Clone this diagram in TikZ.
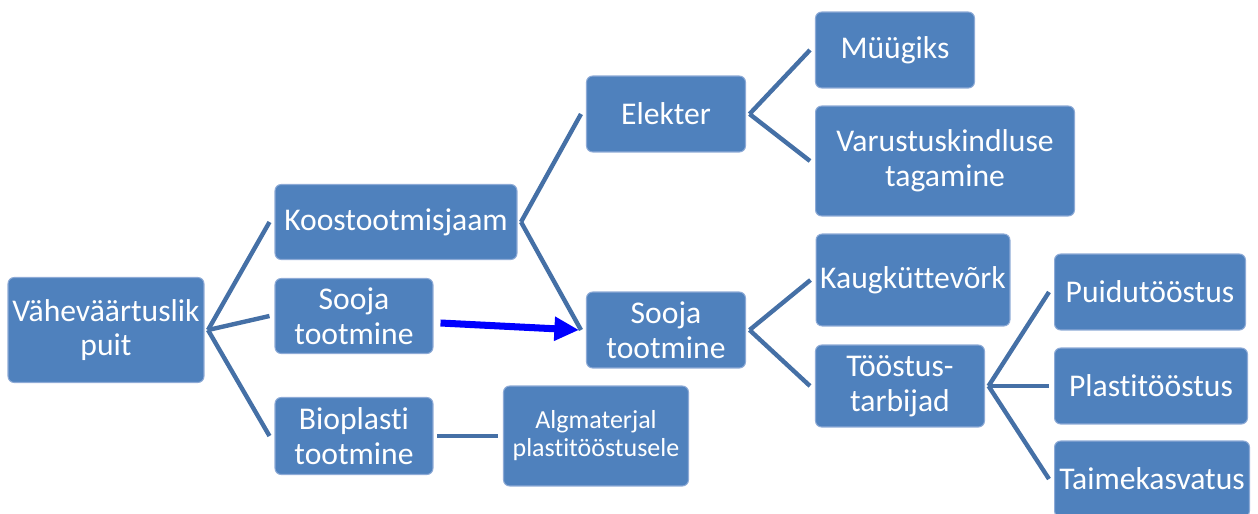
\documentclass[tikz,border=0pt]{standalone}
\usepackage{fontspec}
\setmainfont{Carlito}[Ligatures=NoCommon]
\usepackage{xcolor}
\usetikzlibrary{positioning, arrows.meta, calc}
\definecolor{boxfill}{HTML}{4F81BD}
\definecolor{boxedge}{HTML}{8DAAD6}
\definecolor{linkline}{HTML}{4570A6}
\definecolor{heatarrow}{HTML}{0000FF}

\begin{document}
\begin{tikzpicture}[
    x=0.02cm, y=-0.02cm,
    item/.style={rectangle, draw=boxedge, line width=0.6pt, fill=boxfill, text=white,
                 rounded corners=3.5pt, inner sep=0pt, align=center,
                 font=\fontsize{18}{19.8}\selectfont},
    small/.style={item, font=\fontsize{14.8}{16}\selectfont},
    link/.style={linkline, line width=2.5pt},
    push/.style={-{Triangle[length=14pt, width=13pt]}, heatarrow, line width=4pt}
  ]
    \useasboundingbox (0,0) rectangle (1258,514);
    % left column
    \node[item, minimum width=3.92cm, minimum height=2.1cm] (puit) at (106,330) {Väheväärtuslik\\puit};
    \node[item, minimum width=4.84cm, minimum height=1.5cm] (koos) at (396,222) {Koostootmisjaam};
    \node[item, minimum width=3.16cm, minimum height=1.5cm] (soojaA) at (354,316) {Sooja\\tootmine};
    \node[item, minimum width=3.16cm, minimum height=1.54cm] (bio) at (354,436) {Bioplasti\\tootmine};
    % middle column
    \node[item, minimum width=3.18cm, minimum height=1.52cm] (elekter) at (666,114) {Elekter};
    \node[item, minimum width=3.18cm, minimum height=1.52cm] (soojaB) at (666,330) {Sooja\\tootmine};
    \node[small, minimum width=3.7cm, minimum height=2cm] (algm) at (596,436) {Algmaterjal\\plastitööstusele};
    % right columns
    \node[item, minimum width=3.18cm, minimum height=1.52cm] (myyk) at (895,50) {Müügiks};
    \node[item, minimum width=5.18cm, minimum height=2.2cm] (varu) at (945,161) {Varustuskindluse\\tagamine};
    \node[item, minimum width=3.88cm, minimum height=1.84cm] (kaug) at (913,280) {Kaugküttevõrk};
    \node[item, minimum width=3.38cm, minimum height=1.64cm] (tarb) at (900,386) {Tööstus-\\tarbijad};
    \node[item, minimum width=3.82cm, minimum height=1.52cm] (puidu) at (1150,292) {Puidutööstus};
    \node[item, minimum width=3.86cm, minimum height=1.52cm] (plast) at (1151,386) {Plastitööstus};
    \node[item, minimum width=3.9cm, minimum height=1.52cm] (taime) at (1152,479) {Taimekasvatus};

    \draw[link] ([xshift=2pt]puit.east) -- ([xshift=-0.1cm]koos.west);
    \draw[link] ([xshift=2pt]puit.east) -- ([xshift=-0.1cm]soojaA.west);
    \draw[link] ([xshift=2pt]puit.east) -- ([xshift=-0.1cm]bio.west);
    \draw[link] ([xshift=2pt]koos.east) -- ([xshift=-0.1cm]elekter.west);
    \draw[link] ([xshift=2pt]koos.east) -- ([xshift=-0.1cm]soojaB.west);
    \draw[link] ([xshift=2pt]bio.east) -- ([xshift=-0.1cm]algm.west);
    \draw[link] ([xshift=2pt]elekter.east) -- ([xshift=-0.1cm]myyk.west);
    \draw[link] ([xshift=2pt]elekter.east) -- ([xshift=-0.1cm]varu.west);
    \draw[link] ([xshift=2pt]soojaB.east) -- ([xshift=-0.1cm]kaug.west);
    \draw[link] ([xshift=2pt]soojaB.east) -- ([xshift=-0.1cm]tarb.west);
    \draw[link] ([xshift=2pt]tarb.east) -- ([xshift=-0.1cm]puidu.west);
    \draw[link] ([xshift=2pt]tarb.east) -- ([xshift=-0.1cm]plast.west);
    \draw[link] ([xshift=2pt]tarb.east) -- ([xshift=-0.1cm]taime.west);
    \draw[push] ([xshift=0.14cm, yshift=-0.14cm]soojaA.east) -- ([xshift=-0.14cm]soojaB.west);
\end{tikzpicture}
\end{document}
